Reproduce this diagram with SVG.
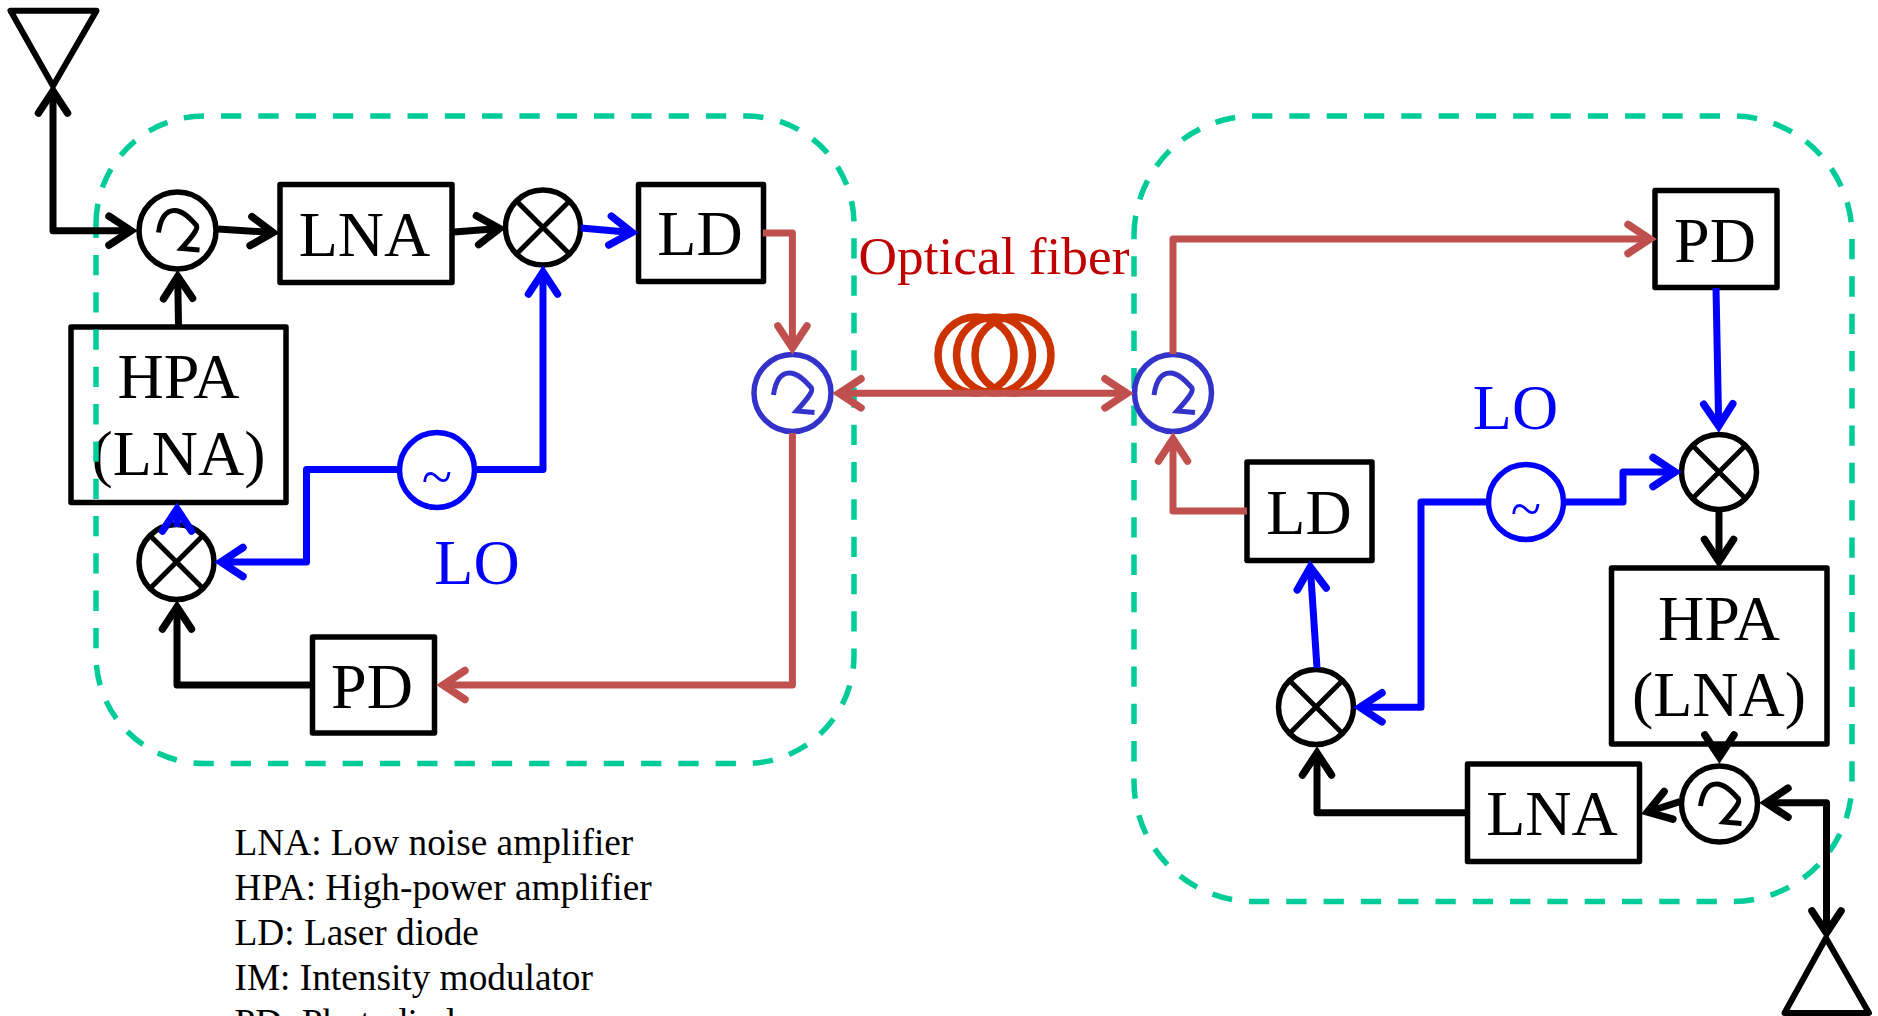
<svg xmlns="http://www.w3.org/2000/svg" width="1878" height="1016" viewBox="0 0 1878 1016">
<style>
text{font-family:"Liberation Serif","Times New Roman",serif}
.lbl{font-size:64px;text-anchor:middle;fill:#000}
.lo{font-size:64px;text-anchor:middle;fill:#0000ff}
.leg{font-size:37.3px;fill:#000}
.box{fill:#fff;stroke:#000;stroke-width:5.5;stroke-linejoin:round}
.hollow{fill:none}
.ring{fill:#fff;stroke-width:5.5}
.k{stroke:#000}.b{stroke:#0000ff}.i{stroke:#3333cc}
.cross{fill:none;stroke:#000;stroke-width:5}
.glyph{fill:none;stroke-width:5;stroke-linejoin:miter}
.dash{fill:none;stroke:#00cc99;stroke-width:5.5;stroke-dasharray:20.3 17}
.ant{fill:#fff;stroke:#000;stroke-width:6;stroke-linejoin:round}
.coil{fill:none;stroke:#cc3300;stroke-width:7.5}
.cb,.cu,.cr{fill:none;stroke-width:7;stroke-linejoin:round}
.cb{stroke:#000;marker-end:url(#ak)}
.cu{stroke:#0000ff;marker-end:url(#au)}
.cr{stroke:#c0504d;marker-end:url(#ar)}
.both{marker-start:url(#ak)}
.both-r{marker-start:url(#ar)}
</style>
<defs>
<marker id="ak" markerUnits="userSpaceOnUse" orient="auto-start-reverse" markerWidth="60" markerHeight="60" refX="30" refY="30" viewBox="0 0 60 60"><path d="M8,15.5 L30,30 L8,44.5" fill="none" stroke="#000" stroke-width="7.5" stroke-linecap="round" stroke-linejoin="miter"/></marker>
<marker id="au" markerUnits="userSpaceOnUse" orient="auto-start-reverse" markerWidth="60" markerHeight="60" refX="30" refY="30" viewBox="0 0 60 60"><path d="M8,15.5 L30,30 L8,44.5" fill="none" stroke="#0000ff" stroke-width="7.5" stroke-linecap="round" stroke-linejoin="miter"/></marker>
<marker id="ar" markerUnits="userSpaceOnUse" orient="auto-start-reverse" markerWidth="60" markerHeight="60" refX="30" refY="30" viewBox="0 0 60 60"><path d="M8,15.5 L30,30 L8,44.5" fill="none" stroke="#c0504d" stroke-width="7.5" stroke-linecap="round" stroke-linejoin="miter"/></marker>
<path id="circ" class="glyph" d="M-19,2 C-17,-12 -12,-20 -3,-20 C5,-20 12,-13 19,-5 C21,-1 13,8 4,18 L22,19.5"/>
<path id="x" class="cross" d="M-27,-27 L27,27 M-27,27 L27,-27"/>
</defs>

<path id="remote-unit-boundary" class="dash" d="M1134,236 A120,120 0 0 1 1254,116 H1732 A120,120 0 0 1 1852,236 V781.5 A120,120 0 0 1 1732,901.5 H1254 A120,120 0 0 1 1134,781.5 Z"/>

<g id="antenna-1"><path class="ant" d="M10.5,10.7 H96.5 L53,86 Z"/></g>
<g id="antenna-2"><path class="ant" d="M1826,938 L1869,1013 H1784.5 Z"/></g>

<g id="circulator-1"><circle class="ring k" cx="177.5" cy="230.5" r="38.5"/><use href="#circ" x="177.5" y="230.5" class="k"/></g>
<g id="lna-1"><rect class="box" x="280" y="184.5" width="172" height="98"/><text class="lbl" x="364.5" y="255.5">LNA</text></g>
<g id="mixer-1"><circle class="ring k" cx="543" cy="227.5" r="37.5"/><use href="#x" x="543" y="227.5"/></g>
<g id="ld-1"><rect class="box" x="638.5" y="184.5" width="125" height="97"/><text class="lbl" x="700" y="254.5">LD</text></g>
<g id="hpa-1"><rect class="box hollow" x="71" y="327" width="215" height="175.5"/><text class="lbl" x="178.5" y="398">HPA</text><text class="lbl" x="178.5" y="475">(LNA)</text></g>
<g id="oscillator-1"><circle class="ring b" cx="437" cy="470" r="37.5"/><text x="437" y="496" font-size="56" text-anchor="middle" fill="#0000ff">~</text></g>
<g id="mixer-2"><circle class="ring k" cx="176.5" cy="562" r="37.5"/><use href="#x" x="176.5" y="562"/></g>
<g id="pd-1"><rect class="box" x="312.5" y="637" width="122" height="96"/><text class="lbl" x="372" y="708">PD</text></g>
<g id="circulator-2"><circle class="ring i" cx="792.5" cy="393" r="38.5"/><use href="#circ" x="792.5" y="393" class="i"/></g>

<g id="fiber-coil"><circle class="coil" cx="976" cy="355" r="38"/><circle class="coil" cx="994.5" cy="355" r="38"/><circle class="coil" cx="1013" cy="355" r="38"/></g>
<text id="fiber-label" x="994" y="274" font-size="53.3" text-anchor="middle" fill="#c00000">Optical fiber</text>

<g id="circulator-3"><circle class="ring i" cx="1173" cy="393" r="38.5"/><use href="#circ" x="1173" y="393" class="i"/></g>
<g id="pd-2"><rect class="box" x="1655" y="190.5" width="122" height="97"/><text class="lbl" x="1715" y="261.5">PD</text></g>
<g id="mixer-3"><circle class="ring k" cx="1719" cy="472" r="37.5"/><use href="#x" x="1719" y="472"/></g>
<g id="oscillator-2"><circle class="ring b" cx="1526" cy="502" r="37.5"/><text x="1526" y="528" font-size="56" text-anchor="middle" fill="#0000ff">~</text></g>
<g id="ld-2"><rect class="box" x="1247" y="462" width="125" height="98.5"/><text class="lbl" x="1309" y="533.5">LD</text></g>
<g id="hpa-2"><rect class="box" x="1611.5" y="568" width="215.5" height="176"/><text class="lbl" x="1719" y="640">HPA</text><text class="lbl" x="1719" y="716">(LNA)</text></g>
<g id="mixer-4"><circle class="ring k" cx="1316" cy="707" r="37.5"/><use href="#x" x="1316" y="707"/></g>
<g id="lna-2"><rect class="box" x="1467.5" y="764" width="172" height="97.5"/><text class="lbl" x="1552" y="834.5">LNA</text></g>
<g id="circulator-4"><circle class="ring k" cx="1719.5" cy="804" r="38"/><use href="#circ" x="1719.5" y="804" class="k"/></g>

<path id="local-unit-boundary" class="dash" d="M96,224 A108,108 0 0 1 204,116 H746 A108,108 0 0 1 854,224 V655.5 A108,108 0 0 1 746,763.5 H204 A108,108 0 0 1 96,655.5 Z"/>

<g id="connectors">
<path class="cb both" d="M53,91 V230.7 H131"/>
<path class="cb" d="M218,229 L273,232.5"/>
<path class="cb" d="M454,232 L499.5,228.5"/>
<path class="cb" d="M178.5,325 L177.7,276.5"/>
<path class="cu" d="M581,228 L632,232.5"/>
<path class="cu" d="M475,469.6 H543 V272"/>
<path class="cu" d="M399,469.6 H306.5 V562 H221"/>
<path class="cu" d="M177,527 V509"/>
<path class="cb" d="M312,685 H177 V607"/>
<path class="cr" d="M763,233 H792.4 V348"/>
<path class="cr" d="M792.4,433 V685 H443"/>
<path class="cr both-r" d="M839,393.3 H1127"/>
<path class="cr" d="M1173,354 V239 H1650"/>
<path class="cu" d="M1716,288 L1718.7,426"/>
<path class="cu" d="M1564,502 H1623 V472 H1675"/>
<path class="cu" d="M1488,502 H1421 V707.3 H1360"/>
<path class="cr" d="M1247,511 H1173 V439"/>
<path class="cb" d="M1719,510 V561.5"/>
<path class="cb" d="M1719.4,744 V757"/>
<path class="cu" d="M1317,668 L1310.3,567"/>
<path class="cb" d="M1467.5,812.7 H1317 V753"/>
<path class="cb" d="M1680,801.7 L1647.5,812"/>
<path class="cb both" d="M1826.5,933 V802.7 H1766"/>
</g>

<text class="lo" x="477" y="584">LO</text>
<text class="lo" x="1515.5" y="428.5">LO</text>
<text class="leg" x="234.5" y="854.5">LNA: Low noise amplifier</text>
<text class="leg" x="234.5" y="899.5">HPA: High-power amplifier</text>
<text class="leg" x="234.5" y="944.5">LD: Laser diode</text>
<text class="leg" x="234.5" y="989.5">IM: Intensity modulator</text>
<text class="leg" x="234.5" y="1034.5">PD: Photodiode</text>
</svg>
